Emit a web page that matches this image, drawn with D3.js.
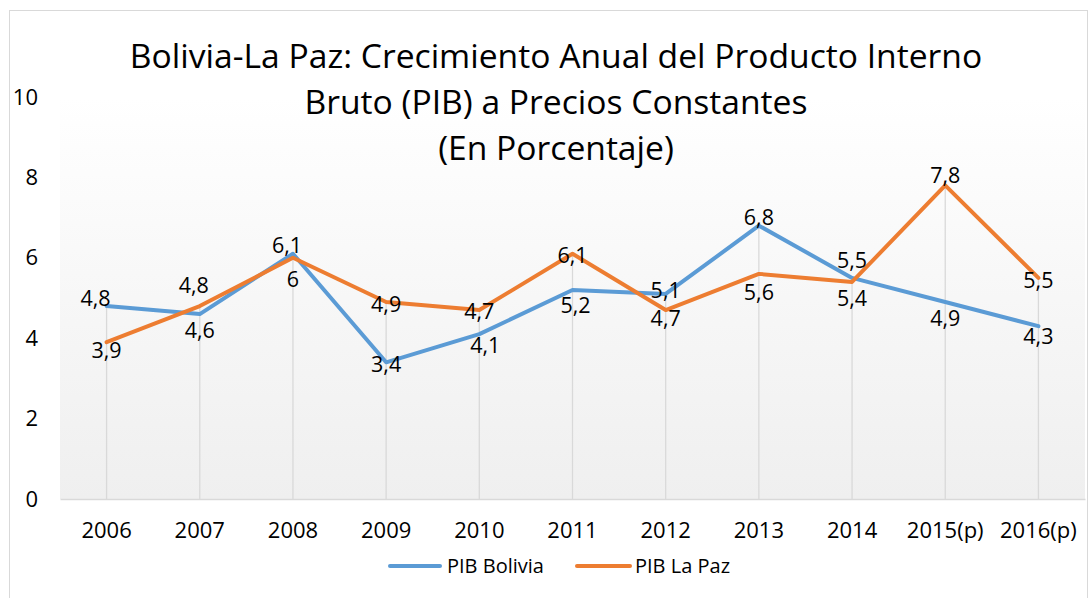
<!DOCTYPE html>
<html>
<head>
<meta charset="utf-8">
<script src="https://cdn.jsdelivr.net/npm/d3@7"></script>
<style>
  html, body { margin: 0; padding: 0; background: #ffffff; }
  svg { display: block; font-family: "Open Sans", "Noto Sans", sans-serif; }
</style>
</head>
<body>
<svg id="chart" width="1090" height="598"></svg>
<script>
// ---- data ----
const categories = ["2006","2007","2008","2009","2010","2011","2012","2013","2014","2015(p)","2016(p)"];
const pibBolivia = [4.8, 4.6, 6.1, 3.4, 4.1, 5.2, 5.1, 6.8, 5.5, 4.9, 4.3];
const pibLaPaz   = [3.9, 4.8, 6.0, 4.9, 4.7, 6.1, 4.7, 5.6, 5.4, 7.8, 5.5];
const seriesNames = ["PIB Bolivia", "PIB La Paz"];
const yTicks = [0, 2, 4, 6, 8, 10];
const titleLines = ["Bolivia-La Paz: Crecimiento Anual del Producto Interno",
                    "Bruto (PIB) a Precios Constantes",
                    "(En Porcentaje)"];

// ---- styles / label placement (offsets of label centre from the point) ----
const colors = ["#5b9bd5", "#ed7d31"];
const labelOffsetsBolivia = [[-11,-8],[0,16],[-6,-9],[0,2],[6,11],[3,15],[0,-4],[0,-8],[0,-18],[0,16],[0,10]];
const labelOffsetsLaPaz   = [[0,8],[-6,-21],[0,21],[0,2],[0,1],[0,1],[0,8],[0,18],[0,16],[0,-10],[0,2]];

const svg = d3.select("#chart");
const plot = { left: 60, right: 1085, top: 97, bottom: 499 };

// outer chart border
svg.append("rect")
  .attr("x", 9.5).attr("y", 10.5).attr("width", 1078).attr("height", 620)
  .attr("fill", "#ffffff").attr("stroke", "#d9d9d9").attr("stroke-width", 1);

// gradient for plot area
const defs = svg.append("defs");
const grad = defs.append("linearGradient").attr("id", "plotGrad")
  .attr("x1", 0).attr("y1", 0).attr("x2", 0).attr("y2", 1);
grad.append("stop").attr("offset", "0%").attr("stop-color", "#ffffff");
grad.append("stop").attr("offset", "100%").attr("stop-color", "#efefef");

svg.append("rect")
  .attr("x", plot.left).attr("y", plot.top)
  .attr("width", plot.right - plot.left).attr("height", plot.bottom - plot.top)
  .attr("fill", "url(#plotGrad)");

const x = d3.scaleBand().domain(categories).range([plot.left, plot.right]).padding(0);
const y = d3.scaleLinear().domain([0, 10]).range([plot.bottom, plot.top]);
const cx = c => x(c) + x.bandwidth() / 2;

// drop lines
svg.append("g").selectAll("line").data(categories).join("line")
  .attr("x1", d => cx(d)).attr("x2", d => cx(d))
  .attr("y1", (d, i) => y(Math.max(pibBolivia[i], pibLaPaz[i])))
  .attr("y2", plot.bottom)
  .attr("stroke", "#d9d9d9").attr("stroke-width", 1.3);

// x axis
const xAxis = svg.append("g").attr("transform", `translate(0,${plot.bottom})`)
  .call(d3.axisBottom(x).tickSize(0).tickPadding(23));
xAxis.select(".domain").attr("stroke", "#d9d9d9").attr("stroke-width", 1.5);
xAxis.selectAll("text").attr("font-size", 22).attr("fill", "#000000")
  .attr("font-family", "'Open Sans', sans-serif");

// y axis
const yAxis = svg.append("g").attr("transform", `translate(${plot.left},0)`)
  .call(d3.axisLeft(y).tickValues(yTicks).tickSize(0).tickPadding(22).tickFormat(d3.format("d")));
yAxis.select(".domain").remove();
yAxis.selectAll("text").attr("font-size", 22).attr("fill", "#000000")
  .attr("font-family", "'Open Sans', sans-serif");

// lines
const allSeries = [pibBolivia, pibLaPaz];
const lineGen = d3.line().x((d, i) => cx(categories[i])).y(d => y(d));
allSeries.forEach((s, k) => {
  svg.append("path").datum(s)
    .attr("d", lineGen)
    .attr("fill", "none")
    .attr("stroke", colors[k]).attr("stroke-width", 4)
    .attr("stroke-linejoin", "round").attr("stroke-linecap", "round");
});

// data labels
const fmt = v => (Number.isInteger(v) ? String(v) : v.toFixed(1).replace(".", ","));
const offsetsAll = [labelOffsetsBolivia, labelOffsetsLaPaz];
allSeries.forEach((s, k) => {
  svg.append("g").selectAll("text").data(s).join("text")
    .attr("x", (d, i) => cx(categories[i]) + offsetsAll[k][i][0])
    .attr("y", (d, i) => y(d) + offsetsAll[k][i][1])
    .attr("dy", "0.36em")
    .attr("text-anchor", "middle")
    .attr("font-size", 21.5).attr("fill", "#000000")
    .text(d => fmt(d));
});

// title
const titleG = svg.append("g");
const tl = titleG.selectAll("text").data(titleLines).join("text")
  .attr("x", 556).attr("y", (d, i) => 68 + i * 46)
  .attr("text-anchor", "middle").attr("fill", "#000000")
  .attr("font-size", 30)
  .text(d => d);
const w0 = tl.nodes()[0].getComputedTextLength();
tl.attr("font-size", 30 * 853 / w0);

// legend
const legendItems = [
  { name: seriesNames[0], color: colors[0], x0: 390, x1: 440, tx: 447 },
  { name: seriesNames[1], color: colors[1], x0: 577, x1: 630, tx: 635 }
];
const lg = svg.append("g");
legendItems.forEach(it => {
  lg.append("line").attr("x1", it.x0).attr("x2", it.x1).attr("y1", 566).attr("y2", 566)
    .attr("stroke", it.color).attr("stroke-width", 4).attr("stroke-linecap", "round");
  lg.append("text").attr("x", it.tx).attr("y", 566).attr("dy", "0.36em")
    .attr("font-size", 20).attr("fill", "#000000").text(it.name);
});
</script>
</body>
</html>
